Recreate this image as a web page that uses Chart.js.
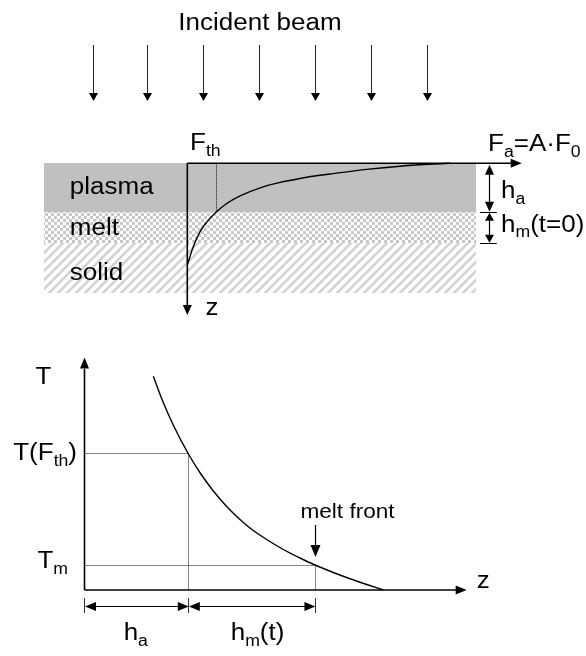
<!DOCTYPE html>
<html><head><meta charset="utf-8">
<script src="https://cdn.jsdelivr.net/npm/chart.js@4"></script>
<style>html,body{margin:0;padding:0;background:#fff;overflow:hidden}canvas{display:block}</style>
</head><body>
<canvas id="c" width="586" height="656"></canvas>
<script>
// ================= DATA =================
// Top panel: absorbed fluence F (units of F_a) against depth z (units of h_a)
const fluenceF = [0, 0.023, 0.048, 0.074, 0.109, 0.150, 0.201, 0.277, 0.353, 0.429, 0.505, 0.555, 0.683, 0.810, 0.936, 1.0];
const fluenceZ = [2.08, 1.70, 1.40, 1.20, 1.0, 0.82, 0.665, 0.50, 0.39, 0.31, 0.245, 0.21, 0.125, 0.06, 0.015, 0];
const fluenceThreshold = 0.109;              // F_th
const layerNames = ['plasma', 'melt', 'solid'];
const layerTop = [0, 1, 1.633];              // depth of layer tops (h_a units)
const layerBottom = [1, 1.633, 2.65];        // depth of layer bottoms
const beamArrowF = [-0.359, -0.153, 0.060, 0.273, 0.486, 0.699, 0.912];

// Bottom panel: temperature T against depth z (units of h_a)
const depthZ = [0.663, 0.759, 0.855, 1.0, 1.113, 1.241, 1.370, 1.482, 1.594, 1.755, 1.915, 2.076, 2.22, 2.397, 2.558, 2.719, 2.88];
const tempT  = [8.55, 7.50, 6.60, 5.45, 4.69, 3.96, 3.34, 2.88, 2.48, 2.02, 1.62, 1.28, 1.0, 0.7, 0.45, 0.22, 0];
const tempLevelLabels = ['T(F_th)', 'T_m'];
const tempLevels = [5.47, 1.0];              // T(F_th), T_m
const depthMarks = [0, 1.0, 2.22];           // 0, h_a, h_a + h_m(t)
const depthMarkLabels = ['h_a', 'h_m(t)'];

// ================= LAYOUT (pixels) =================
const W = 586, H = 656;
const TOP = {ox: 187.3, oy: 163.3, sx: 262.7, sy: 49};
const BOT = {ox: 84.5, oy: 590, sx: 103.8, sy: 25};
const FONT = '"Liberation Sans", Arial, Helvetica, sans-serif';
const K = 1.13;   // horizontal text stretch of the original figure

function richWidth(ctx, parts, size) {
  let w = 0;
  for (const [t, sub] of parts) {
    ctx.font = (sub ? size * 0.68 : size) + 'px ' + FONT;
    w += ctx.measureText(t).width;
  }
  return w * K;
}
function rich(ctx, parts, x, y, size, align) {
  const w = richWidth(ctx, parts, size);
  let cx = align === 'center' ? x - w / 2 : align === 'right' ? x - w : x;
  ctx.fillStyle = '#000';
  ctx.textBaseline = 'alphabetic';
  ctx.textAlign = 'left';
  for (const [t, sub] of parts) {
    const s = sub ? size * 0.68 : size;
    ctx.font = s + 'px ' + FONT;
    ctx.save();
    ctx.translate(cx, y + (sub ? size * 0.24 : 0));
    ctx.scale(K, 1);
    ctx.fillText(t, 0, 0);
    ctx.restore();
    cx += ctx.measureText(t).width * K;
  }
}
function parse(label) {
  const out = [];
  const re = /_([a-z0-9]+)/g;
  let last = 0, m;
  while ((m = re.exec(label))) {
    if (m.index > last) out.push([label.slice(last, m.index), 0]);
    out.push([m[1], 1]);
    last = m.index + m[0].length;
  }
  if (last < label.length) out.push([label.slice(last), 0]);
  return out;
}
function line(ctx, x1, y1, x2, y2, w, color, dash) {
  ctx.save();
  ctx.beginPath();
  ctx.lineWidth = w;
  ctx.strokeStyle = color;
  ctx.setLineDash(dash || []);
  ctx.moveTo(x1, y1);
  ctx.lineTo(x2, y2);
  ctx.stroke();
  ctx.restore();
}
function head(ctx, x, y, dir, len, hw) {
  ctx.save();
  ctx.fillStyle = '#000';
  ctx.beginPath();
  if (dir === 'down') { ctx.moveTo(x, y); ctx.lineTo(x - hw, y - len); ctx.lineTo(x + hw, y - len); }
  if (dir === 'up') { ctx.moveTo(x, y); ctx.lineTo(x - hw, y + len); ctx.lineTo(x + hw, y + len); }
  if (dir === 'right') { ctx.moveTo(x, y); ctx.lineTo(x - len, y - hw); ctx.lineTo(x - len, y + hw); }
  if (dir === 'left') { ctx.moveTo(x, y); ctx.lineTo(x + len, y - hw); ctx.lineTo(x + len, y + hw); }
  ctx.closePath();
  ctx.fill();
  ctx.restore();
}
function makePattern(ctx, kind) {
  const c = document.createElement('canvas');
  const g = c.getContext('2d');
  if (kind === 'checker') {
    c.width = 6; c.height = 6;
    g.fillStyle = '#fff'; g.fillRect(0, 0, 6, 6);
    g.fillStyle = '#c8c8c8'; g.fillRect(0, 0, 3, 3); g.fillRect(3, 3, 3, 3);
  } else {
    c.width = 9; c.height = 9;
    g.fillStyle = '#fff'; g.fillRect(0, 0, 9, 9);
    g.strokeStyle = '#d2d2d2'; g.lineWidth = 2.6;
    g.beginPath();
    g.moveTo(-1, 10); g.lineTo(10, -1);
    g.moveTo(-1, 1); g.lineTo(1, -1);
    g.moveTo(8, 10); g.lineTo(10, 8);
    g.stroke();
  }
  return ctx.createPattern(c, 'repeat');
}

const diagram = {
  id: 'diagram',
  beforeDatasetsDraw(chart) {
    const ctx = chart.ctx;
    const xT = v => chart.scales.xTop.getPixelForValue(v);
    const yT = v => chart.scales.yTop.getPixelForValue(v);
    const xB = v => chart.scales.xBot.getPixelForValue(v);
    const yB = v => chart.scales.yBot.getPixelForValue(v);
    ctx.save();
    const fills = ['#c0c0c0', makePattern(ctx, 'checker'), makePattern(ctx, 'hatch')];
    const L = xT(-0.5455), R = xT(1.098);
    layerNames.forEach((n, i) => {
      const t = Math.round(yT(layerTop[i])), b = Math.round(yT(layerBottom[i]));
      ctx.fillStyle = fills[i];
      ctx.fillRect(Math.round(L), t, Math.round(R) - Math.round(L), b - t);
    });
    const DOT = '#111';
    const xf = Math.round(xT(fluenceThreshold)) + 0.5;
    line(ctx, xf, yT(0), xf, yT(1), 1, DOT, [1, 1]);
    const xa = Math.round(xB(depthMarks[1])) + 0.5, xm = Math.round(xB(depthMarks[2])) + 0.5;
    const yth = Math.round(yB(tempLevels[0])) + 0.5, ytm = Math.round(yB(tempLevels[1])) + 0.5;
    line(ctx, xB(0), yth, xa, yth, 1, DOT, [1, 1]);
    line(ctx, xa, yth, xa, yB(0), 1, DOT, [1, 1]);
    line(ctx, xB(0), ytm, xm, ytm, 1, DOT, [1, 1]);
    line(ctx, xm, ytm, xm, yB(0), 1, DOT, [1, 1]);
    ctx.restore();
  },
  afterDatasetsDraw(chart) {
    const ctx = chart.ctx;
    const xT = v => chart.scales.xTop.getPixelForValue(v);
    const yT = v => chart.scales.yTop.getPixelForValue(v);
    const xB = v => chart.scales.xBot.getPixelForValue(v);
    const yB = v => chart.scales.yBot.getPixelForValue(v);
    ctx.save();
    // ---- incident beam ----
    rich(ctx, [['Incident beam', 0]], xT(0.2767), yT(-2.718), 23, 'center');
    beamArrowF.forEach(f => {
      const x = Math.round(xT(f)) + 0.5;
      line(ctx, x, yT(-2.414), x, yT(-1.42), 1, '#222');
      head(ctx, x, yT(-1.271), 'down', 8, 4.5);
    });
    // ---- top axes ----
    const x0 = xT(0), y0 = yT(0);
    line(ctx, x0, y0, xT(1.25), y0, 1.6, '#000');
    head(ctx, xT(1.273), y0, 'right', 11, 4.5);
    line(ctx, x0, y0, x0, yT(2.95), 1.6, '#000');
    head(ctx, x0, yT(3.096), 'down', 10, 4.5);
    rich(ctx, parse('F_th'), xT(0.0103), yT(-0.27), 23, 'left');
    rich(ctx, [['F', 0], ['a', 1], ['=A·F', 0], ['0', 1]], xT(1.145), yT(-0.25), 23, 'left');
    rich(ctx, [['z', 0]], xT(0.094), yT(3.096), 23, 'center');
    const nameBase = [0.627, 1.467, 2.38];
    layerNames.forEach((n, i) => rich(ctx, [[n, 0]], xT(-0.447), yT(nameBase[i]), 23, 'left'));
    // thickness arrows on the right
    const xd = Math.round(xT(1.147)) + 0.5;
    line(ctx, xd, yT(0) + 10, xd, yT(1) - 10, 1.2, '#000');
    head(ctx, xd, yT(0) + 1.5, 'up', 10, 4.5);
    head(ctx, xd, yT(1) - 0.5, 'down', 10, 4.5);
    line(ctx, xd, yT(1) + 8, xd, yT(layerBottom[1]) - 8, 1.2, '#000');
    head(ctx, xd, yT(1) + 0.5, 'up', 8, 4.5);
    head(ctx, xd, yT(layerBottom[1]) - 0.5, 'down', 8, 4.5);
    [1, layerBottom[1]].forEach(z => {
      const y = Math.round(yT(z)) + 0.5;
      line(ctx, xT(1.114), y, xT(1.178), y, 1, '#000');
    });
    rich(ctx, parse('h_a'), xT(1.194), yT(0.714), 23, 'left');
    rich(ctx, parse('h_m(t=0)'), xT(1.194), yT(1.396), 23, 'left');

    // ---- bottom axes ----
    const bx0 = xB(0), by0 = yB(0);
    line(ctx, bx0, by0, bx0, yB(8.85), 1.6, '#000');
    head(ctx, bx0, yB(9.3), 'up', 11, 4.5);
    line(ctx, bx0, by0, xB(3.58), by0, 1.6, '#000');
    head(ctx, xB(3.682), by0, 'right', 11, 4.5);
    rich(ctx, [['T', 0]], xB(-0.395), yB(8.24), 23, 'center');
    rich(ctx, [['z', 0]], xB(3.78), yB(0.08), 23, 'left');
    rich(ctx, parse(tempLevelLabels[0]), xB(-0.072), yB(5.2), 23, 'right');
    rich(ctx, parse(tempLevelLabels[1]), xB(-0.159), yB(0.88), 23, 'right');
    rich(ctx, [['melt front', 0]], xB(2.534), yB(2.868), 20, 'center');
    const xmf = Math.round(xB(depthMarks[2])) + 0.5;
    line(ctx, xmf, yB(2.6), xmf, yB(1.6), 1.2, '#000');
    head(ctx, xmf, yB(1.32), 'down', 12, 5);
    const yd = Math.round(yB(-0.62)) + 0.5;
    depthMarks.forEach(z => {
      const x = Math.round(xB(z)) + 0.5;
      line(ctx, x, yB(-0.32), x, yB(-0.92), 1, '#333');
    });
    for (let i = 0; i < 2; i++) {
      const a = xB(depthMarks[i]) + 0.5, b = xB(depthMarks[i + 1]) + 0.5;
      line(ctx, a + 8, yd, b - 8, yd, 1.2, '#000');
      head(ctx, a, yd, 'left', 11, 4.5);
      head(ctx, b, yd, 'right', 11, 4.5);
    }
    rich(ctx, parse(depthMarkLabels[0]), xB(0.494), yB(-2.0), 23, 'center');
    rich(ctx, parse(depthMarkLabels[1]), xB(1.667), yB(-2.0), 23, 'center');
    ctx.restore();
  }
};

new Chart(document.getElementById('c'), {
  type: 'scatter',
  data: {
    datasets: [
      {
        data: fluenceF.map((f, i) => ({x: f, y: fluenceZ[i]})),
        xAxisID: 'xTop', yAxisID: 'yTop',
        showLine: true, borderColor: '#000', borderWidth: 1.4,
        pointRadius: 0, cubicInterpolationMode: 'monotone', fill: false
      },
      {
        data: depthZ.map((z, i) => ({x: z, y: tempT[i]})),
        xAxisID: 'xBot', yAxisID: 'yBot',
        showLine: true, borderColor: '#000', borderWidth: 1.4,
        pointRadius: 0, cubicInterpolationMode: 'monotone', fill: false
      }
    ]
  },
  options: {
    responsive: false,
    animation: false,
    devicePixelRatio: 1,
    layout: {padding: 0},
    plugins: {legend: {display: false}, title: {display: false}, tooltip: {enabled: false}},
    events: [],
    scales: {
      x: {display: false, type: 'linear'},
      y: {display: false, type: 'linear'},
      xTop: {type: 'linear', axis: 'x', display: false, min: -TOP.ox / TOP.sx, max: (W - TOP.ox) / TOP.sx},
      yTop: {type: 'linear', axis: 'y', display: false, reverse: true, min: -TOP.oy / TOP.sy, max: (H - TOP.oy) / TOP.sy},
      xBot: {type: 'linear', axis: 'x', display: false, min: -BOT.ox / BOT.sx, max: (W - BOT.ox) / BOT.sx},
      yBot: {type: 'linear', axis: 'y', display: false, min: -(H - BOT.oy) / BOT.sy, max: BOT.oy / BOT.sy}
    }
  },
  plugins: [diagram]
});
</script>
</body></html>
